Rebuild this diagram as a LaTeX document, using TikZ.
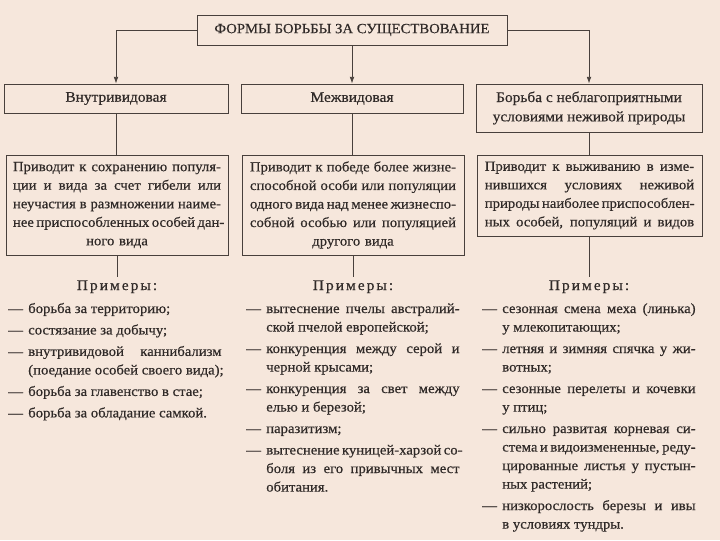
\documentclass[tikz,border=0pt]{standalone}
\usepackage{fontspec}
\setmainfont{Liberation Serif}[FakeBold=0.5, FakeStretch=1.05]
\usetikzlibrary{arrows.meta}

\definecolor{paper}{RGB}{246,231,220}
\definecolor{ink}{RGB}{48,42,40}
\definecolor{frame}{RGB}{72,64,60}

% one line of an example list: dash column + text (s = justified, l = ragged)
\newlength{\dashw}\setlength{\dashw}{15pt}
\newlength{\exw}\setlength{\exw}{145pt}
\newcommand{\exl}[3][s]{\makebox[\dashw][l]{#2}\makebox[\exw][#1]{\spaceskip=0pt\xspaceskip=0pt\relax #3}}
% justified line inside a box
\newcommand{\jl}[1]{\makebox[\hsize][s]{\spaceskip=0pt\xspaceskip=0pt\relax #1}}
\newcommand{\gap}{\\[2.2pt]}

\begin{document}
\begin{tikzpicture}[x=0.75pt, y=-0.75pt,
  every node/.style={text=ink},
  titlebox/.style={draw=frame, line width=0.7pt, minimum width=232.5pt, minimum height=22.5pt,
    inner sep=0pt, font=\fontsize{10.5}{12}\selectfont},
  headbox/.style={draw=frame, line width=0.7pt, inner sep=0pt, align=center,
    font=\fontsize{11}{14.5}\selectfont},
  descbox/.style={draw=frame, line width=0.7pt, inner sep=0pt, align=center,
    font=\fontsize{10.5}{13.9}\selectfont},
  exhead/.style={inner sep=2pt, font=\fontsize{11}{13}\selectfont\addfontfeature{LetterSpace=14}},
  exlist/.style={inner sep=0pt, align=left, text width=160pt, anchor=base west,
    font=\fontsize{10.5}{13.9}\selectfont},
  link/.style={draw=frame, line width=0.6pt},
  arr/.style={link, -{Latex[length=5pt,width=3.5pt]}}]

  % Paper (fixes the page size)
  \path[use as bounding box, fill=paper] (0,0) rectangle (720,540);

  % Title
  \node[titlebox] (title) at (352,30) {ФОРМЫ БОРЬБЫ ЗА СУЩЕСТВОВАНИЕ};

  % Three forms
  \node[headbox, minimum width=168pt, minimum height=21.75pt] (intra) at (116,98.5) {Внутривидовая};
  \node[headbox, minimum width=166.5pt, minimum height=21.75pt] (inter) at (352,98.5) {Межвидовая};
  \node[headbox, minimum width=169.5pt, minimum height=36pt] (abio) at (589,108)
    {Борьба с неблагоприятными\\условиями неживой природы};

  % What each form leads to
  \node[descbox, text width=156pt, minimum width=166.5pt, minimum height=75pt] (intraD) at (117,205)
    {\jl{Приводит к сохранению популя-}\\
     \jl{ции и вида за счет гибели или}\\
     \jl{неучастия в размножении наиме-}\\
     \jl{нее приспособленных особей дан-}\\
     ного вида};
  \node[descbox, text width=154.5pt, minimum width=166.5pt, minimum height=75pt] (interD) at (353,205)
    {\jl{Приводит к победе более жизне-}\\
     \jl{способной особи или популяции}\\
     \jl{одного вида над менее жизнеспо-}\\
     \jl{собной особью или популяцией}\\
     другого вида};
  \node[descbox, text width=157pt, minimum width=168.75pt, minimum height=60.75pt] (abioD) at (589.5,195.5)
    {\jl{Приводит к выживанию в изме-}\\
     \jl{нившихся условиях неживой}\\
     \jl{природы наиболее приспособлен-}\\
     \jl{ных особей, популяций и видов}};

  % Examples
  \node[exhead, anchor=base] (intraP) at (117,290) {Примеры:};
  \node[exhead, anchor=base] (interP) at (353,290) {Примеры:};
  \node[exhead, anchor=base] (abioP) at (589,290) {Примеры:};

  \node[exlist] (intraL) at (8,313)
    {\exl[l]{---}{борьба за территорию;}\gap
     \exl[l]{---}{состязание за добычу;}\gap
     \exl{---}{внутривидовой каннибализм}\\
     \exl[l]{}{(поедание особей своего вида);}\gap
     \exl[l]{---}{борьба за главенство в стае;}\gap
     \exl[l]{---}{борьба за обладание самкой.}};
  \node[exlist] (interL) at (246,313)
    {\exl{---}{вытеснение пчелы австралий-}\\
     \exl[l]{}{ской пчелой европейской;}\gap
     \exl{---}{конкуренция между серой и}\\
     \exl[l]{}{черной крысами;}\gap
     \exl{---}{конкуренция за свет между}\\
     \exl[l]{}{елью и березой;}\gap
     \exl[l]{---}{паразитизм;}\gap
     \exl{---}{вытеснение куницей-харзой со-}\\
     \exl{}{боля из его привычных мест}\\
     \exl[l]{}{обитания.}};
  \node[exlist] (abioL) at (482,313)
    {\exl{---}{сезонная смена меха (линька)}\\
     \exl[l]{}{у млекопитающих;}\gap
     \exl{---}{летняя и зимняя спячка у жи-}\\
     \exl[l]{}{вотных;}\gap
     \exl{---}{сезонные перелеты и кочевки}\\
     \exl[l]{}{у птиц;}\gap
     \exl{---}{сильно развитая корневая си-}\\
     \exl{}{стема и видоизмененные, реду-}\\
     \exl{}{цированные листья у пустын-}\\
     \exl[l]{}{ных растений;}\gap
     \exl{---}{низкорослость березы и ивы}\\
     \exl[l]{}{в условиях тундры.}};

  % Connectors
  \draw[arr] (title.west) -| (intra.north);
  \draw[arr] (title.south) -- (inter.north);
  \draw[arr] (title.east) -| (abio.north);

  \draw[link] (intra.south) -- (intra.south |- intraD.north);
  \draw[link] (inter.south) -- (inter.south |- interD.north);
  \draw[link] (abio.south) -- (abio.south |- abioD.north);

  \draw[link] (intraD.south) -- (intraD.south |- intraP.north);
  \draw[link] (interD.south) -- (interD.south |- interP.north);
  \draw[link] (abioD.south) -- (abioD.south |- abioP.north);

\end{tikzpicture}
\end{document}
